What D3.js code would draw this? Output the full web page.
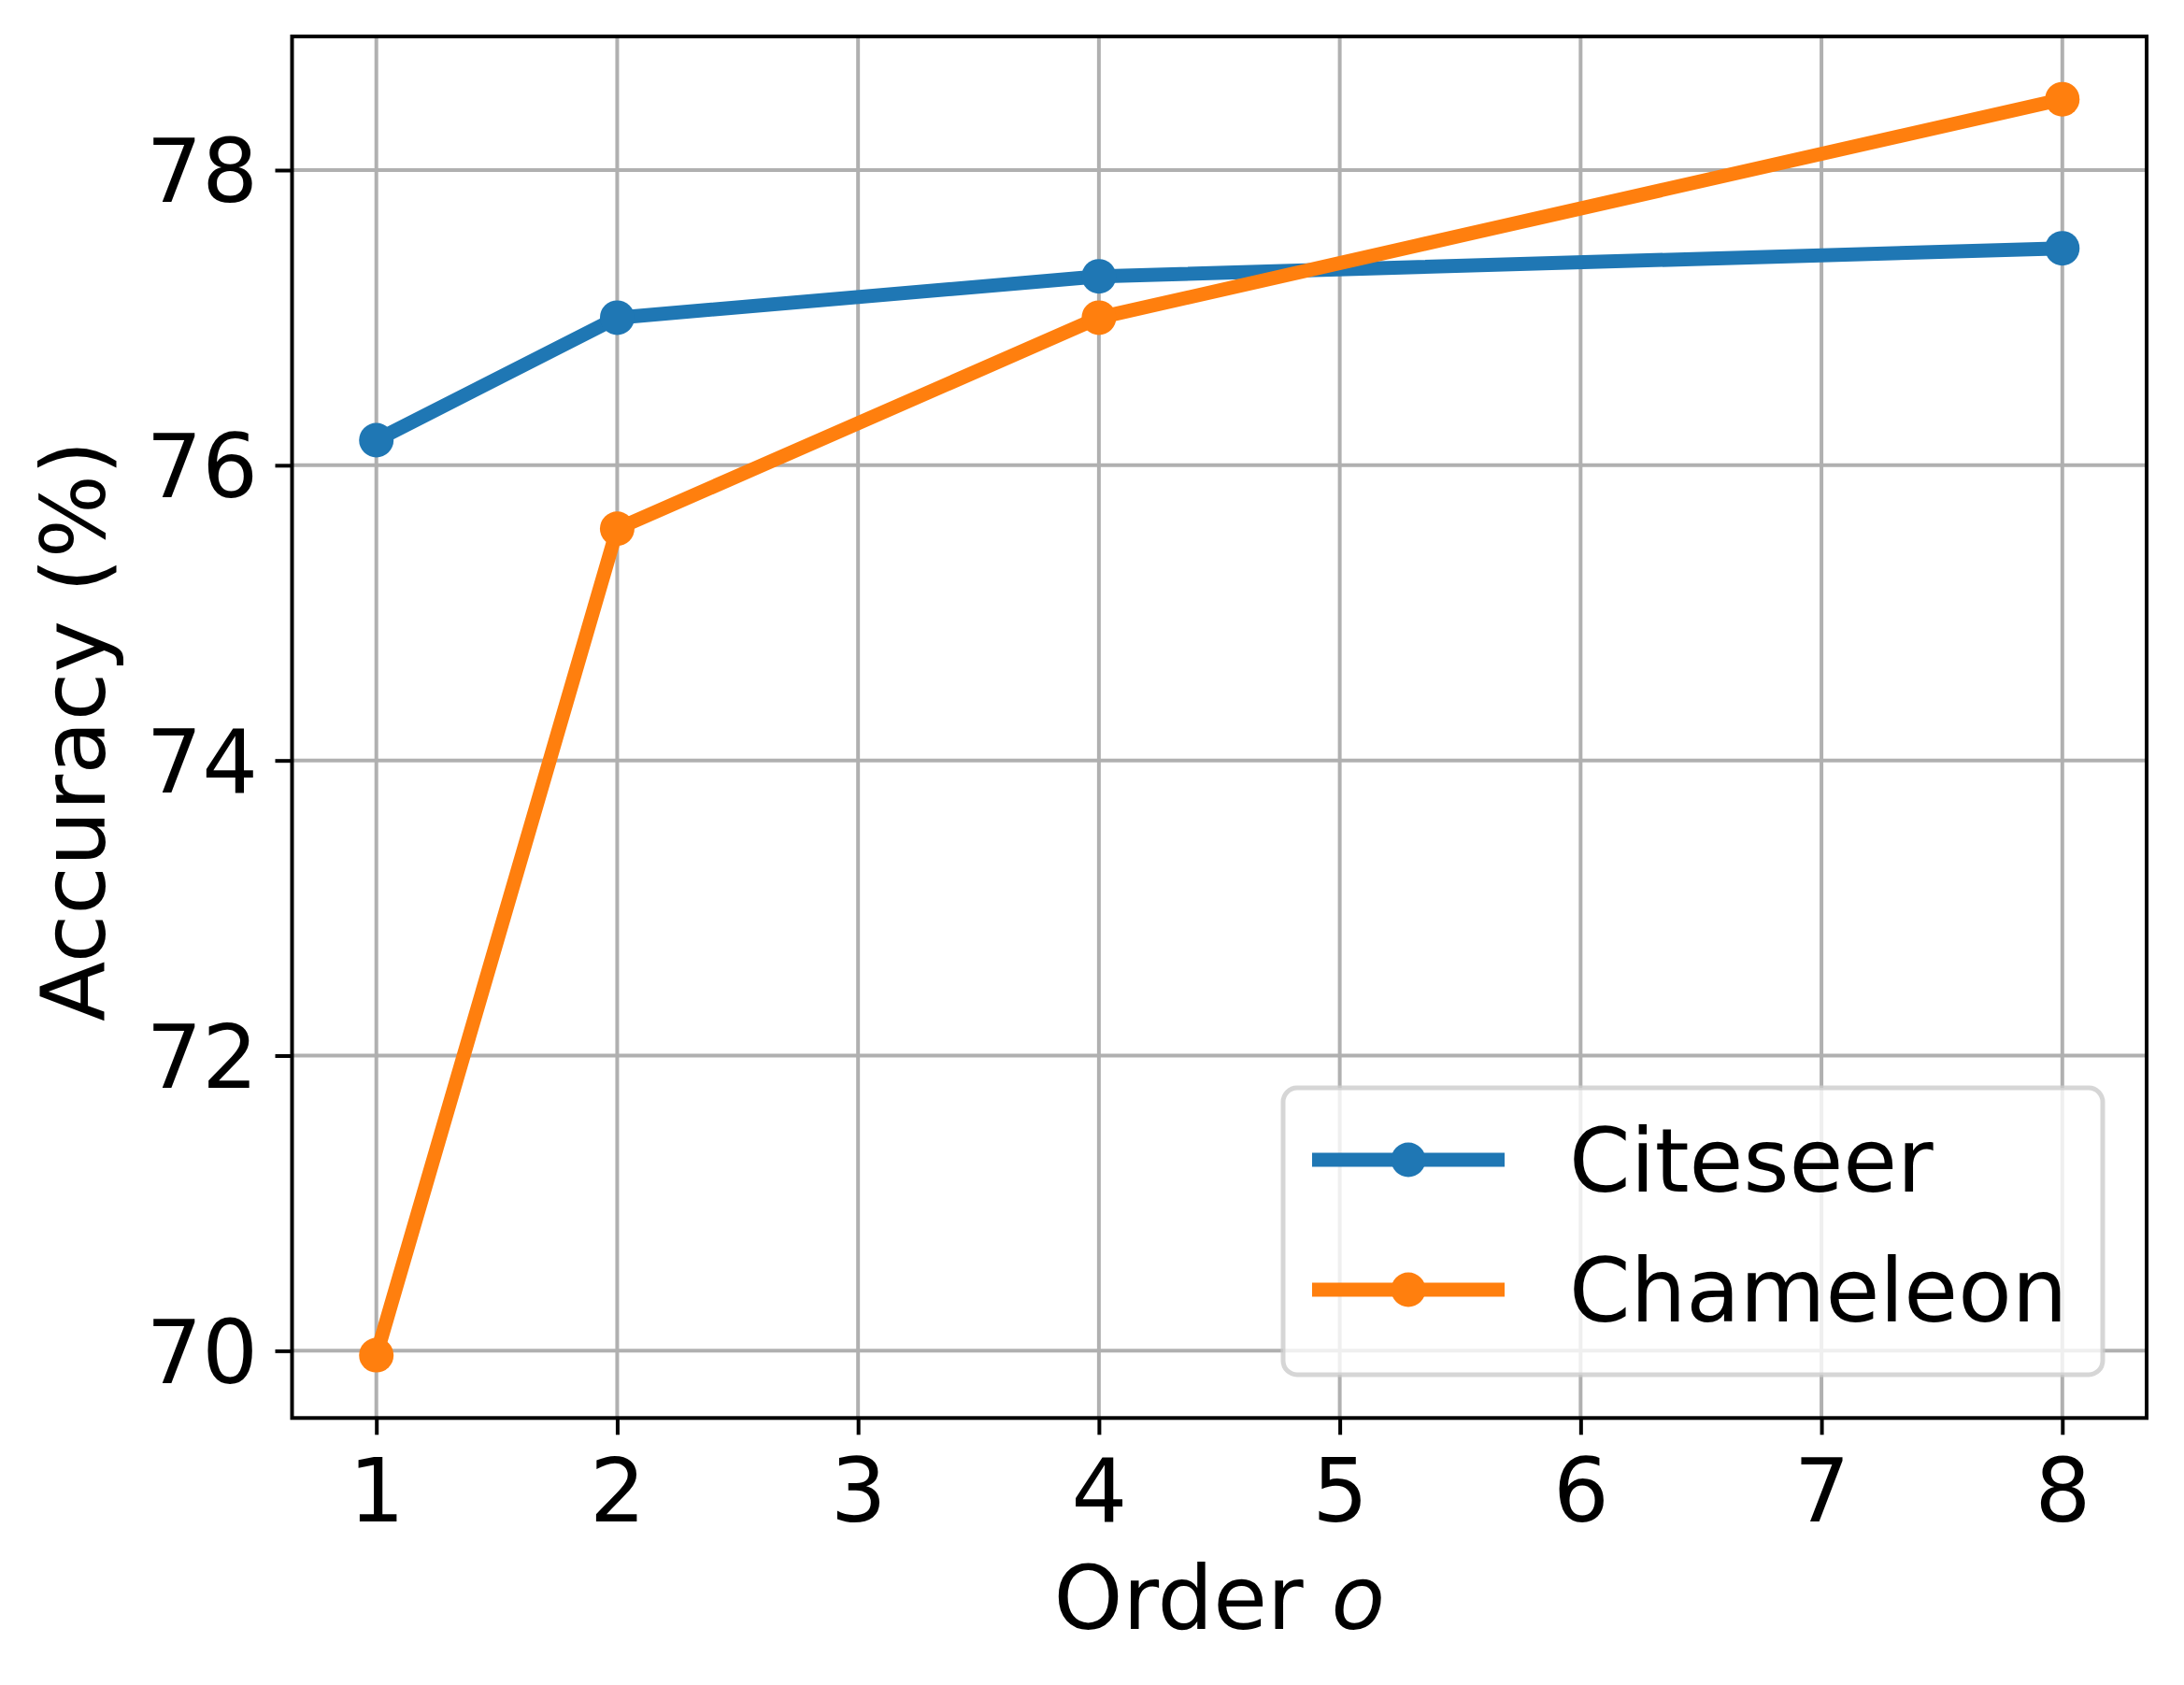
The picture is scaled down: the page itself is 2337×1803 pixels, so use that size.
<!DOCTYPE html>
<html>
<head>
<meta charset="utf-8">
<script src="https://cdn.jsdelivr.net/npm/d3@7"></script>
<style>
html,body{margin:0;padding:0;background:#fff;}
text{font-family:"DejaVu Sans",sans-serif;}
</style>
</head>
<body>
<svg id="chart" width="2337" height="1803"></svg>
<script>
// ---- data ----
const orders = [1, 2, 4, 8];
const citeseer = [76.17, 77.0, 77.28, 77.47];
const chameleon = [69.97, 75.57, 77.0, 78.48];
const seriesNames = ["Citeseer", "Chameleon"];
const seriesColors = ["#1f77b4", "#ff7f0e"];
const xTicks = [1, 2, 3, 4, 5, 6, 7, 8];
const yTicks = [70, 72, 74, 76, 78];
const xLabel = "Order ";
const xLabelItalic = "o";
const yLabel = "Accuracy (%)";

// ---- layout ----
const W = 2337, H = 1803;
const L = 312.5, R = 2297, T = 39, B = 1517.3;
const FS = 94;

const svg = d3.select("#chart");
svg.append("rect").attr("width", W).attr("height", H).attr("fill", "#fff");

// domains with matplotlib-like 5% margins
const allY = citeseer.concat(chameleon);
const yMin = d3.min(allY), yMax = d3.max(allY);
const yPad = (yMax - yMin) * 0.05;
const xMin = d3.min(orders), xMax = d3.max(orders);
const xPad = (xMax - xMin) * 0.05;

const x = d3.scaleLinear().domain([xMin - xPad, xMax + xPad]).range([L, R]);
const y = d3.scaleLinear().domain([yMin - yPad, yMax + yPad]).range([B, T]);

// grid
const grid = svg.append("g");
grid.selectAll("line.gx").data(xTicks).join("line")
  .attr("x1", d => x(d)).attr("x2", d => x(d))
  .attr("y1", T).attr("y2", B)
  .attr("stroke", "#b0b0b0").attr("stroke-width", 4);
grid.selectAll("line.gy").data(yTicks).join("line")
  .attr("x1", L).attr("x2", R)
  .attr("y1", d => y(d)).attr("y2", d => y(d))
  .attr("stroke", "#b0b0b0").attr("stroke-width", 4);

// lines & markers
const series = [citeseer, chameleon];
const line = d3.line().x((d, i) => x(orders[i])).y(d => y(d));
series.forEach((vals, si) => {
  svg.append("path").datum(vals)
    .attr("d", line)
    .attr("fill", "none")
    .attr("stroke", seriesColors[si])
    .attr("stroke-width", 15)
    .attr("stroke-linejoin", "round")
    .attr("stroke-linecap", "butt");
  svg.append("g").selectAll("circle").data(vals).join("circle")
    .attr("cx", (d, i) => x(orders[i]))
    .attr("cy", d => y(d))
    .attr("r", 18.5)
    .attr("fill", seriesColors[si]);
});

// axes using d3 axis generators
const xAxis = d3.axisBottom(x).tickValues(xTicks).tickSize(18).tickPadding(24).tickFormat(d3.format("d"));
const yAxis = d3.axisLeft(y).tickValues(yTicks).tickSize(18).tickPadding(18).tickFormat(d3.format("d"));

const gx = svg.append("g").attr("transform", `translate(0,${B})`).call(xAxis);
const gy = svg.append("g").attr("transform", `translate(${L},0)`).call(yAxis);
[gx, gy].forEach(g => {
  g.select(".domain").remove();
  g.selectAll(".tick line").attr("stroke", "#000").attr("stroke-width", 4);
  g.selectAll(".tick text").attr("fill", "#000").attr("font-size", FS)
    .attr("font-family", "DejaVu Sans");
});
gx.selectAll(".tick text").attr("dy", null).attr("y", 1628 - B);
gy.selectAll(".tick text").attr("dy", null).attr("x", -(L - 276)).attr("y", 34);

// frame
svg.append("rect").attr("x", L).attr("y", T).attr("width", R - L).attr("height", B - T)
  .attr("fill", "none").attr("stroke", "#000").attr("stroke-width", 4);

// axis labels
const xl = svg.append("text").attr("x", (L + R) / 2).attr("y", 1743)
  .attr("text-anchor", "middle").attr("font-size", FS).attr("fill", "#000");
xl.append("tspan").text(xLabel);
xl.append("tspan").attr("font-style", "italic").text(xLabelItalic);

svg.append("text")
  .attr("transform", `translate(112,${(T + B) / 2 + 4}) rotate(-90)`)
  .attr("text-anchor", "middle").attr("font-size", FS).attr("fill", "#000")
  .text(yLabel);

// legend
const lg = svg.append("g");
lg.append("rect").attr("x", 1373).attr("y", 1164).attr("width", 2250 - 1373).attr("height", 1471 - 1164)
  .attr("rx", 15).attr("ry", 15)
  .attr("fill", "#fff").attr("fill-opacity", 0.8)
  .attr("stroke", "#cccccc").attr("stroke-opacity", 0.8).attr("stroke-width", 5);
const legY = [1241, 1380];
seriesNames.forEach((name, i) => {
  lg.append("line").attr("x1", 1404).attr("x2", 1610).attr("y1", legY[i]).attr("y2", legY[i])
    .attr("stroke", seriesColors[i]).attr("stroke-width", 15);
  lg.append("circle").attr("cx", 1507).attr("cy", legY[i]).attr("r", 18.5).attr("fill", seriesColors[i]);
  lg.append("text").attr("x", 1679).attr("y", legY[i] + 34).attr("font-size", FS).attr("fill", "#000").text(name);
});
</script>
</body>
</html>
